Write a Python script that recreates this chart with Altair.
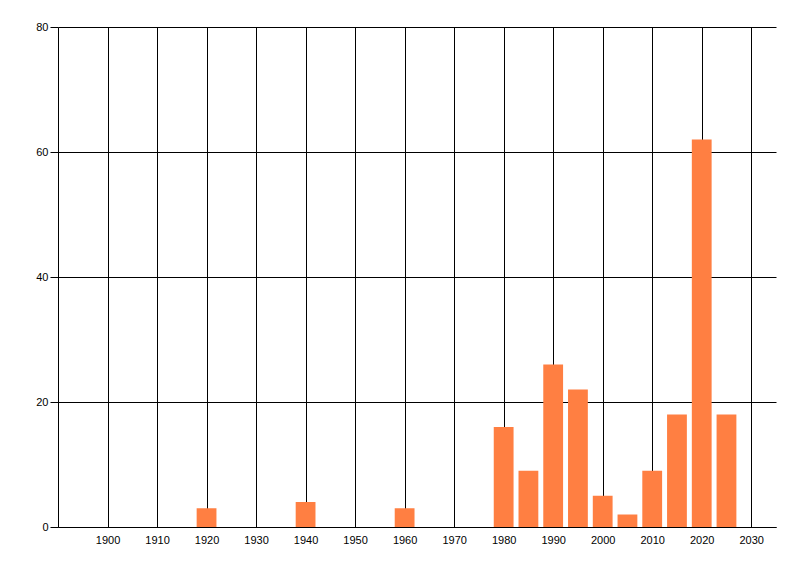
import altair as alt
import pandas as pd

years = [1920, 1940, 1960, 1980, 1985, 1990, 1995, 2000, 2005, 2010, 2015, 2020, 2025]
counts = [3, 4, 3, 16, 9, 26, 22, 5, 2, 9, 18, 62, 18]
x_ticks = [1900, 1910, 1920, 1930, 1940, 1950, 1960, 1970, 1980, 1990, 2000, 2010, 2020, 2030]
y_ticks = [0, 20, 40, 60, 80]

df = pd.DataFrame({"year": years, "count": counts})

font = "Liberation Sans"

chart = (
    alt.Chart(df)
    .transform_calculate(start="datum.year - 2", end="datum.year + 2")
    .mark_bar(color="#FF7F42")
    .encode(
        x=alt.X(
            "start:Q",
            scale=alt.Scale(domain=[1890, 2035], nice=False, zero=False),
            axis=alt.Axis(
                values=x_ticks,
                format="d",
                title=None,
                grid=True,
                gridColor="black",
                gridOpacity=1,
                gridWidth=1,
                ticks=False,
                domain=True,
                domainColor="black",
                labelColor="black",
                labelFont=font,
                labelFontSize=11,
                labelPadding=7,
            ),
        ),
        x2="end:Q",
        y=alt.Y(
            "count:Q",
            scale=alt.Scale(domain=[0, 80], nice=False, padding=0),
            axis=alt.Axis(
                values=y_ticks,
                title=None,
                grid=True,
                gridColor="black",
                gridOpacity=1,
                gridWidth=1,
                ticks=True,
                tickSize=8,
                tickColor="black",
                domain=True,
                domainColor="black",
                labelColor="black",
                labelFont=font,
                labelFontSize=11,
                labelPadding=2,
            ),
        ),
        y2=alt.datum(0),
    )
    .properties(
        width=718,
        height=500,
        autosize=alt.AutoSizeParams(type="none"),
        padding={"left": 50, "top": 19, "right": 16, "bottom": 41},
    )
    .configure_view(stroke=None)
)

chart.save("out.html", embed_options={"renderer": "svg", "actions": False})
